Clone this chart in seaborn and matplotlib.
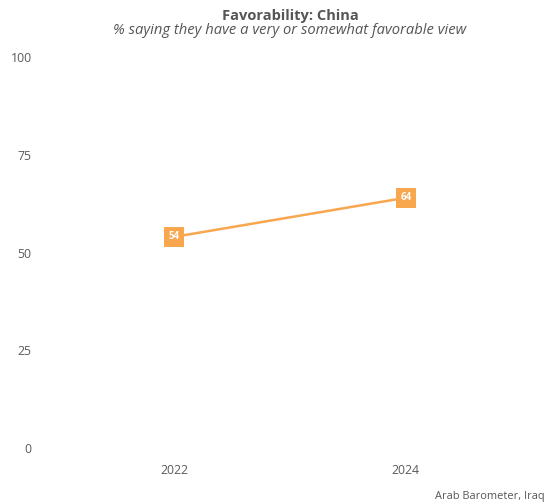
import matplotlib
matplotlib.use("Agg")
import matplotlib.pyplot as plt
import seaborn as sns
import pandas as pd

years = ["2022", "2024"]
favorable = [54, 64]

ORANGE = "#F8A74E"
GREY = "#555555"
TICK_GREY = "#5a5a5a"

sns.set_theme(style="white")
plt.rcParams["font.family"] = ["Open Sans", "DejaVu Sans"]

df = pd.DataFrame({"year": years, "pct": favorable})

fig = plt.figure(figsize=(5.49, 5.04), dpi=100)
H = 504
W = 549
# axes: y 0 -> px 448, y 100 -> px 57
y0_px, y100_px = 448, 57
pad = 2
bottom_px = y0_px + pad * (y0_px - y100_px) / 100
top_px = y100_px - pad * (y0_px - y100_px) / 100
left_px, right_px = 40, 540
ax = fig.add_axes([left_px / W, 1 - bottom_px / H, (right_px - left_px) / W, (bottom_px - top_px) / H])

sns.lineplot(data=df, x="year", y="pct", ax=ax, color=ORANGE, linewidth=1.8, sort=False)
ax.scatter(df["year"], df["pct"], marker="s", s=210, color=ORANGE, zorder=3, linewidths=0)
for x, v in zip(df["year"], df["pct"]):
    ax.text(x, v, f"{v}", ha="center", va="center", color="white",
            fontsize=7, fontweight="bold", zorder=4)

ax.set_xlim(-0.58, 1.58)
ax.set_ylim(-pad, 100 + pad)
ax.set_yticks([0, 25, 50, 75, 100])
ax.set_xlabel("")
ax.set_ylabel("")
for s in ax.spines.values():
    s.set_visible(False)
ax.tick_params(axis="both", length=0, labelsize=8.8, labelcolor=TICK_GREY, pad=6)

cx = 290 / W
fig.text(cx, 1 - 16 / H, "Favorability: China", ha="center", va="center",
         fontsize=10.5, fontweight="bold", color=GREY)
fig.text(cx, 1 - 30 / H, "% saying they have a very or somewhat favorable view",
         ha="center", va="center", fontsize=10.6, style="italic", color=GREY)
fig.text(545 / W, 1 - 496 / H, "Arab Barometer, Iraq", ha="right", va="center",
         fontsize=7.9, color=GREY)

fig.savefig("out.png", dpi=100)
